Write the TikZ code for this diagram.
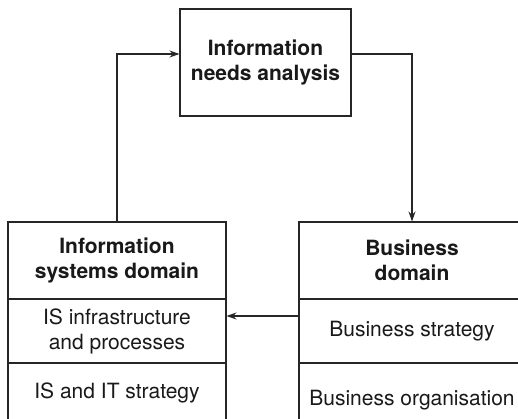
\documentclass[tikz,border=0pt]{standalone}
\usepackage{fontspec}
\setmainfont{TeX Gyre Heros}
\usetikzlibrary{arrows.meta}

\begin{document}
\begin{tikzpicture}[x=1pt, y=1pt,
	cell/.style={draw=black!85, line width=1.1pt, inner sep=0pt, align=center,
		text=black!90, font=\fontsize{21}{25}\selectfont},
	headcell/.style={cell, font=\fontsize{21}{25}\selectfont\bfseries},
	link/.style={draw=black!85, line width=1.1pt, -{Stealth[length=10pt, width=7pt]}}]

% page frame
	\path[use as bounding box, clip] (0,0) rectangle (518,418);

% top box
	\node[headcell, minimum width=171, minimum height=107] (analysis) at (265.5,355.5)
		{Information\\needs analysis};

% information systems domain
	\node[headcell, minimum width=218, minimum height=77] (isdomain) at (117,157.5)
		{Information\\systems domain};
	\node[cell, minimum width=218, minimum height=64] (isinfra) at (117,87)
		{IS infrastructure\\and processes};
	\node[cell, minimum width=218, minimum height=60] (isstrategy) at (117,25)
		{IS and IT strategy};

% business domain
	\node[headcell, minimum width=226, minimum height=77] (bizdomain) at (412,157.5)
		{Business\\domain};
	\node[cell, minimum width=226, minimum height=64] (bizstrategy) at (412,87)
		{Business strategy};
	\node[cell, minimum width=226, minimum height=74] (bizorg) at (412,18)
		{Business organisation};

% connectors
	\draw[link] (isdomain.north) |- ([yshift=8.5]analysis.west);
	\draw[link] ([yshift=8.5]analysis.east) -| (bizdomain.north);
	\draw[link] ([yshift=15]bizstrategy.west) -- ([yshift=15]isinfra.east);

\end{tikzpicture}
\end{document}
